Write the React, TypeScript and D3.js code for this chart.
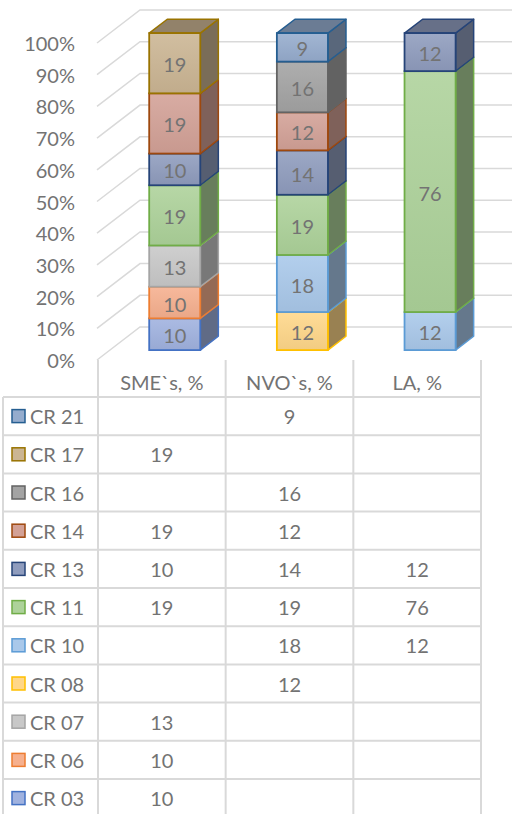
import React from 'react';
import * as d3 from 'd3';

const categories = ["SME`s, %", "NVO`s, %", "LA, %"];
const seriesNames = ["CR 03", "CR 06", "CR 07", "CR 08", "CR 10", "CR 11", "CR 13", "CR 14", "CR 16", "CR 17", "CR 21"];
const smeValues = [10, 10, 13, 0, 0, 19, 10, 19, 0, 19, 0];
const nvoValues = [0, 0, 0, 12, 18, 19, 14, 12, 16, 0, 9];
const laValues = [0, 0, 0, 0, 12, 76, 12, 0, 0, 0, 0];
const yTicks = [0, 10, 20, 30, 40, 50, 60, 70, 80, 90, 100];

const borderColors = ["#4472C4", "#ED7D31", "#A5A5A5", "#FFC000", "#5B9BD5", "#70AD47", "#264478", "#9E480E", "#636363", "#997300", "#255E91"];
const faceColors = ["#a0b2df", "#f6b08e", "#c8c8c8", "#ffd789", "#a9c8ea", "#add29a", "#8f9cbd", "#d3a196", "#a3a3a3", "#cbb593", "#95accd"];

const W = 512;
const H = 814;
const TEXT = "#737373";
const GRID = "#d9d9d9";
const FONT = "Lato, 'Open Sans', sans-serif";
const FS = 20;

const DX = 43; // full depth offset
const DY = -33;
const FRONT_D = 0.3;
const BACK_D = 0.72;

export default function App() {
  const valuesByCat = [smeValues, nvoValues, laValues];
  const rows = categories.map((c, ci) => {
    const r: any = { cat: c };
    seriesNames.forEach((s, si) => (r[s] = valuesByCat[ci][si]));
    return r;
  });
  const stack = d3.stack<any>().keys(seriesNames).offset(d3.stackOffsetExpand);
  const stacked = stack(rows);

  const x = d3.scaleBand().domain(categories).range([98, 481]).paddingInner(0).paddingOuter(0);
  const y = d3.scaleLinear().domain([0, 1]).range([360, 43]);
  const yTick = d3.scaleLinear().domain([0, 100]).range([360, 43]);

  const step = x.step();
  const barW = step * 0.4;
  const fdx = DX * FRONT_D, fdy = DY * FRONT_D;
  const sdx = DX * (BACK_D - FRONT_D), sdy = DY * (BACK_D - FRONT_D);

  const rowTop = 397;
  const rowH = 38.2;
  const tableRows = [...seriesNames].reverse();
  const tableLeft = 3;
  const tableRight = 481;

  const lighten = (c: string, k: number) => d3.interpolateRgb(c, "#ffffff")(k);
  const darken = (c: string, k: number) => {
    const col = d3.rgb(c);
    return d3.rgb(col.r * k, col.g * k, col.b * k).formatHex();
  };

  const segs: any[] = [];
  categories.forEach((c, ci) => {
    stacked.forEach((layer, si) => {
      const d = layer[ci];
      if (d[1] - d[0] <= 0) return;
      segs.push({ ci, si, c, y0: d[0], y1: d[1], v: valuesByCat[ci][si] });
    });
  });

  return (
    <svg width={W} height={H} style={{ position: 'absolute', left: 0, top: 0, background: '#fff' }} fontFamily={FONT}>
      <defs>
        {seriesNames.map((s, i) => (
          <linearGradient key={s} id={`g${i}`} x1="0" y1="0" x2="0" y2="1">
            <stop offset="0" stopColor={lighten(faceColors[i], 0.12)} />
            <stop offset="1" stopColor={darken(faceColors[i], 0.95)} />
          </linearGradient>
        ))}
      </defs>
      {yTicks.map((t) => {
        const yy = yTick(t);
        return (
          <path key={t} d={`M${x.range()[0] - 1},${yy} L${x.range()[0] - 1 + DX},${yy + DY} L${W},${yy + DY}`} fill="none" stroke={GRID} strokeWidth={1.5} />
        );
      })}
      {yTicks.map((t) => (
        <text key={t} x={75} y={yTick(t)} textAnchor="end" dominantBaseline="central" fontSize={FS} fill={TEXT}>{t}%</text>
      ))}
      {segs.map((s, k) => {
        const x0 = (x(s.c) as number) + step * 0.3 + fdx;
        const x1 = x0 + barW;
        const yb = y(s.y0) + fdy;
        const yt = y(s.y1) + fdy;
        const bc = borderColors[s.si];
        const fc = faceColors[s.si];
        return (
          <g key={k}>
            <path d={`M${x1},${yb} L${x1 + sdx},${yb + sdy} L${x1 + sdx},${yt + sdy} L${x1},${yt} Z`} fill={darken(fc, 0.6)} stroke={bc} strokeWidth={1.5} strokeLinejoin="round" />
            <path d={`M${x0},${yt} L${x1},${yt} L${x1 + sdx},${yt + sdy} L${x0 + sdx},${yt + sdy} Z`} fill={darken(fc, 0.72)} stroke={bc} strokeWidth={1.5} strokeLinejoin="round" />
            <rect x={x0} y={yt} width={barW} height={yb - yt} fill={`url(#g${s.si})`} stroke={bc} strokeWidth={1.8} />
            <text x={(x0 + x1) / 2} y={(yt + yb) / 2 + 1} textAnchor="middle" dominantBaseline="central" fontSize={FS} fill={TEXT}>{s.v}</text>
          </g>
        );
      })}
      {[...x.domain().map((c) => x(c) as number), x.range()[1]].map((xx, i) => (
        <line key={`hv${i}`} x1={xx} x2={xx} y1={360} y2={rowTop + rowH * tableRows.length + 5} stroke={GRID} strokeWidth={2} />
      ))}
      <line x1={tableLeft} x2={tableLeft} y1={rowTop} y2={rowTop + rowH * tableRows.length + 5} stroke={GRID} strokeWidth={2} />
      {d3.range(tableRows.length + 1).map((i) => (
        <line key={`hr${i}`} x1={tableLeft} x2={tableRight} y1={rowTop + rowH * i} y2={rowTop + rowH * i} stroke={GRID} strokeWidth={2} />
      ))}
      {categories.map((c) => (
        <text key={c} x={(x(c) as number) + step / 2} y={382} textAnchor="middle" dominantBaseline="central" fontSize={FS} fill={TEXT}>{c}</text>
      ))}
      {tableRows.map((s, ri) => {
        const si = seriesNames.indexOf(s);
        const cy = rowTop + rowH * ri + rowH / 2;
        return (
          <g key={s}>
            <rect x={12} y={cy - 6.5} width={13} height={13} fill={faceColors[si]} stroke={borderColors[si]} strokeWidth={1.5} />
            <text x={30} y={cy} dominantBaseline="central" fontSize={FS} fill={TEXT}>{s}</text>
            {categories.map((c, ci) => {
              const v = valuesByCat[ci][si];
              return v ? (
                <text key={c} x={(x(c) as number) + step / 2} y={cy} textAnchor="middle" dominantBaseline="central" fontSize={FS} fill={TEXT}>{v}</text>
              ) : null;
            })}
          </g>
        );
      })}
    </svg>
  );
}
